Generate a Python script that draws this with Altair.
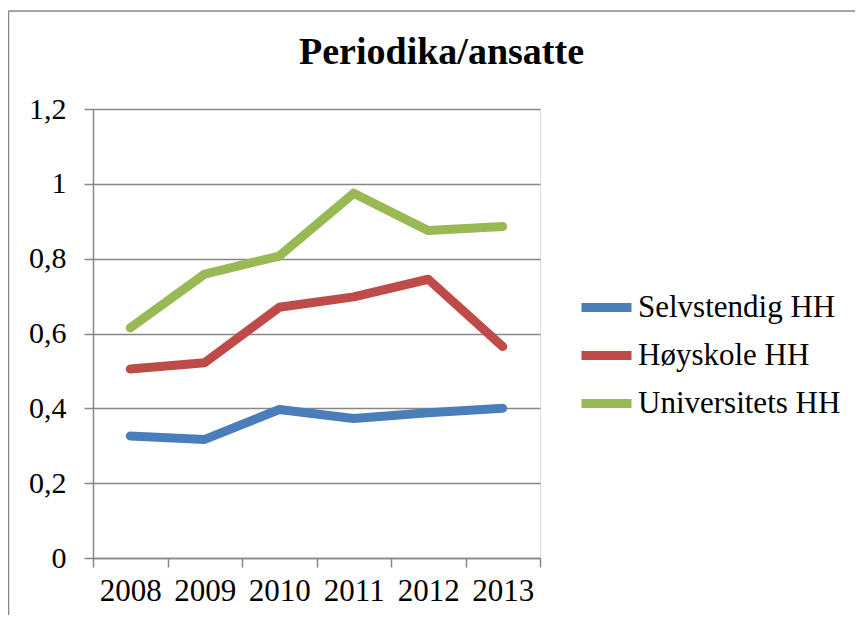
import altair as alt
import pandas as pd

years = [2008, 2009, 2010, 2011, 2012, 2013]
series_names = ["Selvstendig HH", "Høyskole HH", "Universitets HH"]
selvstendig = [0.326, 0.317, 0.397, 0.373, 0.388, 0.400]
hoyskole = [0.505, 0.522, 0.670, 0.698, 0.745, 0.565]
universitets = [0.615, 0.759, 0.807, 0.975, 0.875, 0.886]
colors = ["#4A7EBB", "#BE4B48", "#98B954"]
y_ticks = [0, 0.2, 0.4, 0.6, 0.8, 1.0, 1.2]
x_ticks = [2007.5, 2008, 2008.5, 2009, 2009.5, 2010, 2010.5, 2011, 2011.5,
           2012, 2012.5, 2013, 2013.5]

rows = []
for name, vals in zip(series_names, [selvstendig, hoyskole, universitets]):
    for yr, v in zip(years, vals):
        rows.append({"Year": yr, "Value": v, "Series": name})
df = pd.DataFrame(rows)

FONT = "Liberation Serif"
GRAY = "#878787"

lines = alt.Chart(df).mark_line(
    strokeWidth=9, strokeCap="round", strokeJoin="round"
).encode(
    x=alt.X(
        "Year:Q",
        scale=alt.Scale(domain=[2007.5, 2013.5], nice=False, zero=False),
        axis=alt.Axis(
            title=None,
            values=x_ticks,
            grid=False,
            labelExpr="datum.value % 1 === 0 ? datum.value + '' : ''",
            tickOpacity={"condition": {"test": "datum.value % 1 === 0", "value": 0}, "value": 1},
            tickSize=9,
            tickColor=GRAY,
            tickWidth=1.5,
            domainColor=GRAY,
            domainWidth=1.5,
            labelFont=FONT,
            labelFontSize=31,
            labelColor="#000000",
            labelPadding=9,
            labelFlush=False,
            labelOverlap=False,
        ),
    ),
    y=alt.Y(
        "Value:Q",
        scale=alt.Scale(domain=[0, 1.2], nice=False),
        axis=alt.Axis(
            title=None,
            values=y_ticks,
            labelExpr="replace(format(datum.value, '.1~f'), '.', ',')",
            tickSize=9,
            tickColor=GRAY,
            tickWidth=1.5,
            domainColor=GRAY,
            domainWidth=1.5,
            gridColor=GRAY,
            gridWidth=1.5,
            labelFont=FONT,
            labelFontSize=30,
            labelColor="#000000",
            labelPadding=18,
            labelFlush=False,
        ),
    ),
    color=alt.Color(
        "Series:N",
        scale=alt.Scale(domain=series_names, range=colors),
        sort=series_names,
        legend=alt.Legend(
            title=None,
            orient="none",
            legendX=484,
            legendY=169,
            symbolType="stroke",
            symbolSize=2500,
            symbolStrokeWidth=9,
            labelFont=FONT,
            labelFontSize=31,
            labelColor="#000000",
            labelOffset=2,
            labelLimit=0,
            rowPadding=0,
            padding=0,
        ),
    ),
)

frame_v = alt.Chart(pd.DataFrame({"k": [0]})).mark_rule(
    color=GRAY, strokeWidth=1.5
).encode(x=alt.value(-84.5), y=alt.value(-98), y2=alt.value(700))
frame_h = alt.Chart(pd.DataFrame({"k": [0]})).mark_rule(
    color=GRAY, strokeWidth=1.5
).encode(x=alt.value(-84.5), x2=alt.value(900), y=alt.value(-98))

chart = alt.layer(frame_v, frame_h, lines).properties(
    width=447,
    height=449,
    autosize=alt.AutoSizeParams(type="none"),
    padding={"left": 85, "top": 101, "right": 315, "bottom": 57},
    title=alt.Title(
        "Periodika/ansatte",
        font=FONT,
        fontSize=38,
        fontWeight="bold",
        color="#000000",
        anchor="middle",
        dx=125,
        baseline="alphabetic",
        offset=-92,
    ),
).configure_view(stroke=None).configure(background="white")

chart.save("out.html", embed_options={"renderer": "svg", "actions": False})
